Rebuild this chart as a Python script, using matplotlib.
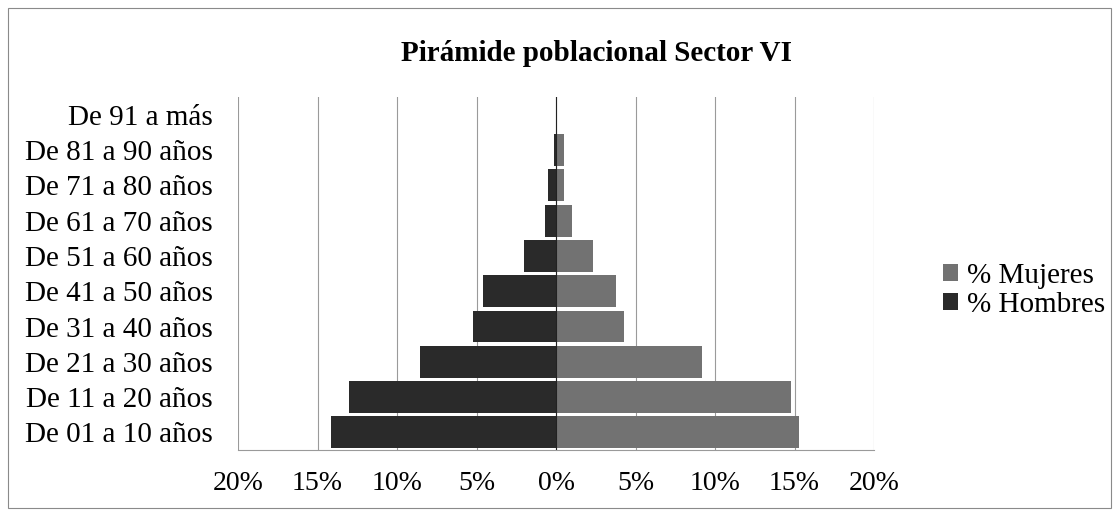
import matplotlib.pyplot as plt
import numpy as np
from matplotlib.patches import Rectangle

plt.rcParams['font.family'] = ['Liberation Serif', 'DejaVu Serif']

grupos = ["De 01 a 10 años", "De 11 a 20 años", "De 21 a 30 años", "De 31 a 40 años",
          "De 41 a 50 años", "De 51 a 60 años", "De 61 a 70 años", "De 71 a 80 años",
          "De 81 a 90 años", "De 91 a más"]
hombres = [14.15, 13.0, 8.55, 5.2, 4.6, 2.0, 0.7, 0.5, 0.1, 0.0]
mujeres = [15.3, 14.8, 9.2, 4.3, 3.75, 2.3, 1.0, 0.5, 0.5, 0.0]
ticks = [-20, -15, -10, -5, 0, 5, 10, 15, 20]
tick_labels = ["20%", "15%", "10%", "5%", "0%", "5%", "10%", "15%", "20%"]

fig = plt.figure(figsize=(11.19, 5.14), dpi=100)
ax = fig.add_axes([0.2127, 0.1245, 0.5684, 0.6865])

y = np.arange(len(grupos))
c_muj = "#727272"
c_hom = "#2a2a2a"
ax.barh(y, mujeres, height=0.9, color=c_muj, label="% Mujeres", zorder=2)
ax.barh(y, [-h for h in hombres], height=0.9, color=c_hom, label="% Hombres", zorder=2)
ax.axvline(0, color="#222222", lw=0.8, zorder=3)

ax.set_xlim(-20, 20)
ax.set_ylim(-0.5, len(grupos) - 0.5)
ax.set_xticks(ticks)
ax.set_xticklabels(tick_labels, fontsize=20)
ax.set_yticks(y)
ax.set_yticklabels(grupos, fontsize=21)
ax.tick_params(length=0)
ax.tick_params(axis="y", pad=18)
ax.tick_params(axis="x", pad=15)
ax.grid(axis="x", color="#9a9a9a", lw=0.8, zorder=0)
for s in ["top", "right", "left"]:
    ax.spines[s].set_visible(False)
ax.spines["bottom"].set_color("#9a9a9a")
ax.spines["bottom"].set_linewidth(0.8)

fig.text(0.533, 0.895, "Pirámide poblacional Sector VI", fontsize=21, fontweight="bold",
         ha="center", va="center")

h, l = ax.get_legend_handles_labels()
fig.legend(h, l, loc="center left", bbox_to_anchor=(0.843, 0.435), frameon=False,
           fontsize=21, handlelength=0.5, handleheight=0.5, handletextpad=0.3,
           labelspacing=0.12, borderaxespad=0, borderpad=0)

fig.patches.append(Rectangle((0.007, 0.012), 0.986, 0.973, transform=fig.transFigure,
                             fill=False, edgecolor="#8a8a8a", lw=0.8))

fig.savefig("out.png", dpi=100)
